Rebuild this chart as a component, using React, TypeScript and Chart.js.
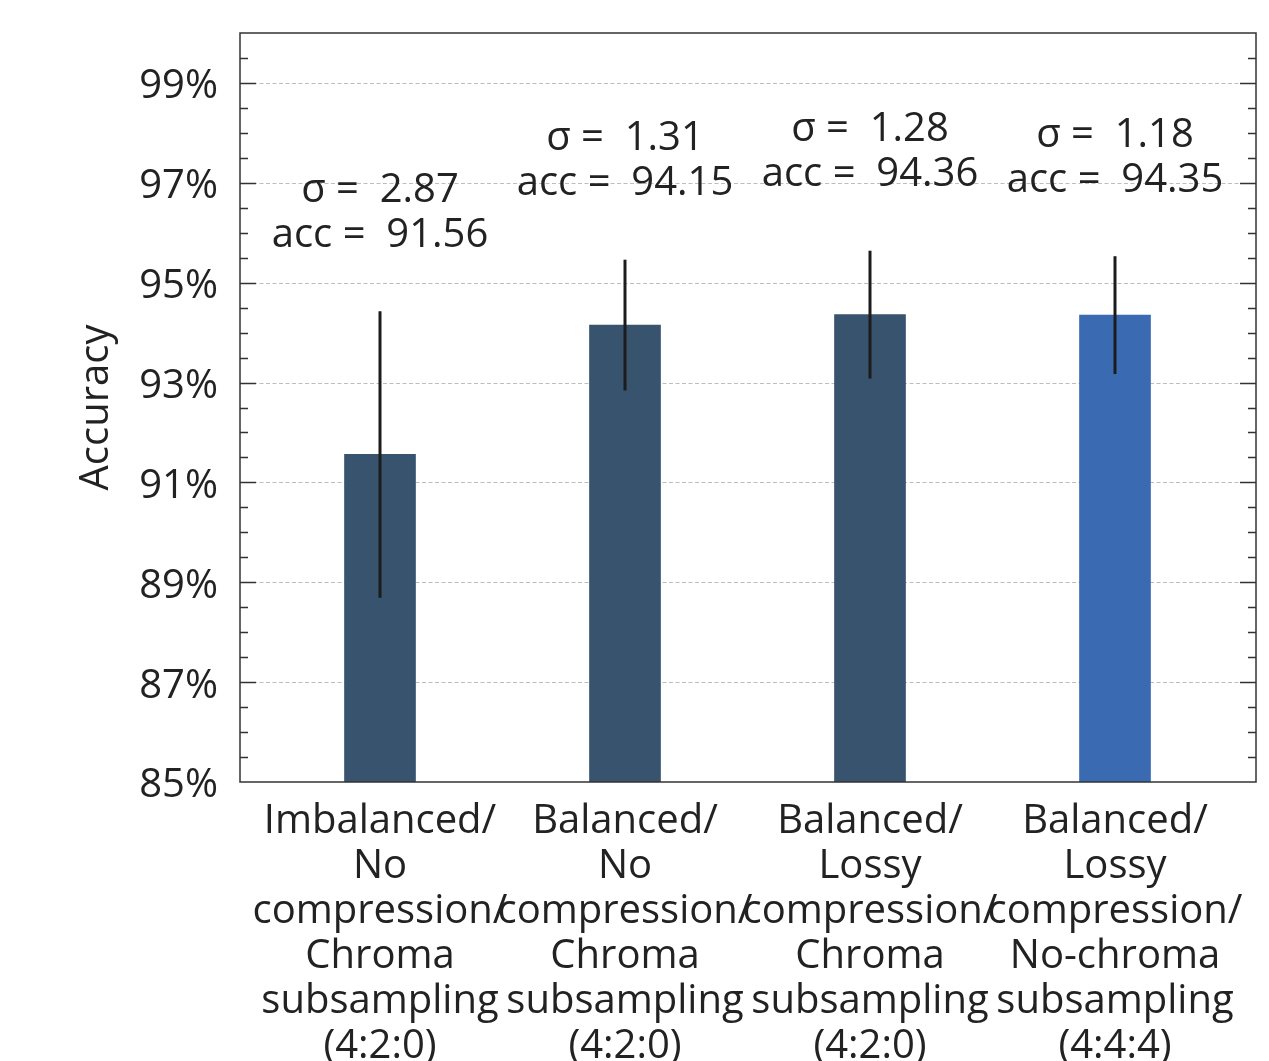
import { useEffect, useRef } from "react";
import { Chart, registerables } from "chart.js";

Chart.register(...registerables);

// Configurations compared in the experiment (multi-line axis labels)
const categories: string[][] = [
  ["Imbalanced/", "No", "compression/", "Chroma", "subsampling", "(4:2:0)"],
  ["Balanced/", "No", "compression/", "Chroma", "subsampling", "(4:2:0)"],
  ["Balanced/", "Lossy", "compression/", "Chroma", "subsampling", "(4:2:0)"],
  ["Balanced/", "Lossy", "compression/", "No-chroma", "subsampling", "(4:4:4)"],
];
// Mean accuracy (%) and standard deviation per configuration
const accuracy = [91.56, 94.15, 94.36, 94.35];
const sigma = [2.87, 1.31, 1.28, 1.18];
const barColors = ["#37536e", "#37536e", "#37536e", "#3a6ab2"];

const Y_MIN = 85;
const Y_MAX = 100;
const MAJOR_STEP = 2;
const MINOR_STEP = 0.5;

const FONT = "'Open Sans', 'DejaVu Sans', sans-serif";
const INK = "#222222";

const isMajor = (v: number) => {
  const k = (v - Y_MIN) / MAJOR_STEP;
  return Math.abs(k - Math.round(k)) < 1e-6 && v < Y_MAX - 1e-6;
};

const decorations = {
  id: "decorations",
  beforeDatasetsDraw(chart: any) {
    const { ctx, chartArea } = chart;
    const y = chart.scales.y;
    ctx.save();
    ctx.strokeStyle = "#bdbdbd";
    ctx.lineWidth = 1;
    ctx.setLineDash([4, 2.5]);
    for (const t of y.ticks) {
      if (!isMajor(t.value) || t.value <= Y_MIN) continue;
      const py = Math.round(y.getPixelForValue(t.value)) + 0.5;
      ctx.beginPath();
      ctx.moveTo(chartArea.left, py);
      ctx.lineTo(chartArea.right, py);
      ctx.stroke();
    }
    ctx.restore();
  },
  afterDatasetsDraw(chart: any) {
    const { ctx, chartArea } = chart;
    const x = chart.scales.x;
    const y = chart.scales.y;
    ctx.save();

    // error bars and value annotations
    accuracy.forEach((acc, i) => {
      const px = x.getPixelForValue(i);
      const top = y.getPixelForValue(acc + sigma[i]);
      const bottom = y.getPixelForValue(acc - sigma[i]);
      ctx.strokeStyle = "#1c1c1c";
      ctx.lineWidth = 3;
      ctx.beginPath();
      ctx.moveTo(px, top);
      ctx.lineTo(px, bottom);
      ctx.stroke();

      ctx.fillStyle = INK;
      ctx.font = `40px ${FONT}`;
      ctx.textAlign = "center";
      ctx.textBaseline = "middle";
      ctx.fillText(`σ =  ${sigma[i].toFixed(2)}`, px, top - 121);
      ctx.fillText(`acc =  ${acc.toFixed(2)}`, px, top - 76);
    });

    // frame
    ctx.strokeStyle = "#333333";
    ctx.lineWidth = 1.5;
    ctx.setLineDash([]);
    ctx.strokeRect(
      chartArea.left,
      chartArea.top,
      chartArea.right - chartArea.left,
      chartArea.bottom - chartArea.top
    );

    // inward tick marks on both vertical sides
    ctx.lineWidth = 1.5;
    for (const t of y.ticks) {
      if (t.value <= Y_MIN || t.value >= Y_MAX) continue;
      const py = Math.round(y.getPixelForValue(t.value)) + 0.5;
      const len = isMajor(t.value) ? 16 : 8;
      ctx.beginPath();
      ctx.moveTo(chartArea.left, py);
      ctx.lineTo(chartArea.left + len, py);
      ctx.moveTo(chartArea.right, py);
      ctx.lineTo(chartArea.right - len, py);
      ctx.stroke();
    }
    ctx.restore();
  },
};

export default function App() {
  const canvasRef = useRef<HTMLCanvasElement | null>(null);

  useEffect(() => {
    const canvas = canvasRef.current;
    if (!canvas) return;
    Chart.defaults.font.family = FONT;
    Chart.defaults.color = INK;

    const chart = new Chart(canvas, {
      type: "bar",
      data: {
        datasets: [
          {
            data: accuracy.map((v, i) => ({ x: i, y: v })),
            backgroundColor: barColors,
            borderWidth: 0,
            barThickness: 71,
          },
        ],
      },
      options: {
        responsive: false,
        animation: false,
        layout: { padding: { top: 33, right: 13, left: 0, bottom: 0 } },
        plugins: {
          legend: { display: false },
          tooltip: { enabled: false },
        },
        scales: {
          x: {
            type: "linear",
            offset: false,
            min: -140 / 245,
            max: 3 + 141 / 245,
            grid: { display: false, drawTicks: false, offset: false },
            border: { display: false },
            afterBuildTicks: (s: any) => {
              s.ticks = categories.map((_, i) => ({ value: i }));
            },
            afterFit: (s: any) => {
              s.height = 1061 - 782;
              s.paddingLeft = 0;
              s.paddingRight = 0;
            },
            ticks: {
              autoSkip: false,
              maxRotation: 0,
              minRotation: 0,
              padding: 17,
              color: INK,
              font: { size: 40, family: FONT, lineHeight: 1.125 },
              callback: (v: any) => categories[Math.round(Number(v))] ?? "",
            },
          },
          y: {
            type: "linear",
            min: Y_MIN,
            max: Y_MAX,
            grid: { display: false, drawTicks: false },
            border: { display: false },
            afterFit: (s: any) => {
              s.width = 240;
              s.paddingTop = 0;
              s.paddingBottom = 0;
            },
            ticks: {
              stepSize: MINOR_STEP,
              autoSkip: false,
              padding: 22,
              labelOffset: 4,
              color: INK,
              font: { size: 40, family: FONT },
              callback: (v: any) => (isMajor(Number(v)) ? `${v}%` : ""),
            },
            title: {
              display: true,
              text: "Accuracy",
              color: INK,
              font: { size: 40, family: FONT, lineHeight: 1.2 },
              padding: { top: 73, bottom: 0 },
            },
          },
        },
      },
      plugins: [decorations],
    });

    return () => chart.destroy();
  }, []);

  return (
    <div style={{ position: "absolute", left: 0, top: 0, width: 1269, height: 1061, background: "#fff" }}>
      <canvas ref={canvasRef} width={1269} height={1061} />
    </div>
  );
}
